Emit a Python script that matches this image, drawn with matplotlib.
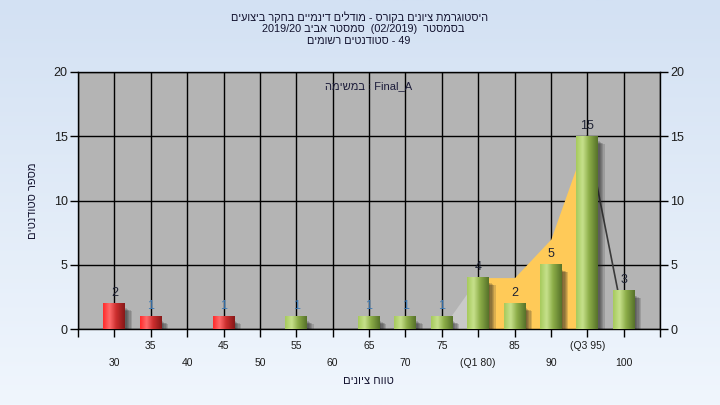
import numpy as np
import matplotlib
matplotlib.use('Agg')
import matplotlib.pyplot as plt
from matplotlib.colors import LinearSegmentedColormap

plt.rcParams['font.family'] = ['Liberation Sans', 'DejaVu Sans']

# ---- data ----
grades = ['30', '35', '40', '45', '50', '55', '60', '65', '70', '75',
          '80', '85', '90', '95', '100']
tick_labels = ['30', '35', '40', '45', '50', '55', '60', '65', '70', '75',
               '(Q1 80)', '85', '90', '(Q3 95)', '100']
counts = [2, 1, 0, 1, 0, 1, 0, 1, 1, 1, 4, 2, 5, 15, 3]
failing = ['30', '35', '40', '45', '50']

# shaded curve behind the bars (inter-quartile range in yellow)
curve_grades = ['75', '80', '85', '90', '95', '100']
curve_values = [0, 4, 4, 7, 15, 0.7]


def rev(s):
    # matplotlib has no bidi, so hebrew runs are written in visual order
    return s[::-1]


title1 = rev('היסטוגרמת ציונים בקורס - מודלים דינמיים בחקר ביצועים')
title2 = '2019/20 ' + rev('סמסטר אביב') + '  (02/2019)  ' + rev('בסמסטר')
title3 = rev('סטודנטים רשומים') + ' - 49'
inner = rev('במשימה') + ' : Final_A'
xlab = rev('טווח ציונים')
ylab = rev('מספר סטודנטים')

fig = plt.figure(figsize=(7.2, 4.05), dpi=100)

# background gradient
bg = fig.add_axes([0, 0, 1, 1], zorder=-10)
bg_cmap = LinearSegmentedColormap.from_list('bg', ['#D3E1F3', '#F0F6FD'])
bg.imshow(np.linspace(0, 1, 256).reshape(-1, 1), cmap=bg_cmap,
          aspect='auto', extent=[0, 1, 0, 1])
bg.axis('off')

ax = fig.add_axes([78 / 720, 76 / 405, 582 / 720, 257 / 405])
ax.set_facecolor('#B4B4B4')

xs = np.arange(1, len(grades) + 1)
pos = dict(zip(grades, xs))

# area behind bars
cx = [pos[g] for g in curve_grades]
ax.fill_between(cx[0:2], curve_values[0:2], color='#C9C9C9', lw=0, zorder=1.5)
ax.fill_between(cx[1:5], curve_values[1:5], color='#FFCA58', lw=0, zorder=1.5)
ax.plot(cx[4:6], curve_values[4:6], color='#3A3A3A', lw=1.2, zorder=1.6)

green = LinearSegmentedColormap.from_list(
    'g', [(0, '#A6CA5C'), (0.3, '#C7E18C'), (0.6, '#8CAD48'), (1, '#56722A')])
red = LinearSegmentedColormap.from_list(
    'r', [(0, '#FF2B2B'), (0.3, '#FF6B6B'), (0.6, '#CC2E2E'), (1, '#861818')])
grad = np.linspace(0, 1, 64).reshape(1, -1)
w = 0.6

for g, x, h in zip(grades, xs, counts):
    if h == 0:
        continue
    # soft shadow to the right of each bar
    for k in range(5):
        off = 0.04 + k * 0.035
        ax.bar(x + off, h - 0.1 - k * 0.05, width=w, bottom=-0.3,
               color='#202020', alpha=0.16, lw=0, zorder=2.5)
    cmap = red if g in failing else green
    ax.imshow(grad, cmap=cmap, extent=[x - w / 2, x + w / 2, 0, h],
              aspect='auto', zorder=3, interpolation='bicubic')
    col = '#3D7AB5' if h == 1 else '#1E2233'
    ax.text(x, h + 0.58, str(h), ha='center', va='baseline',
            fontsize=9, color=col, zorder=5)

ax.set_xlim(0, 16)
ax.set_ylim(0, 20)
ax.set_xticks(range(17))
ax.set_yticks([0, 5, 10, 15, 20])
ax.grid(color='black', lw=1)
ax.set_axisbelow(True)
ax.tick_params(axis='x', labelbottom=False, length=6, width=1, direction='out')
ax.tick_params(axis='y', left=True, right=True, labelleft=True, labelright=True,
               length=6, width=1, pad=1.5, labelsize=9, labelcolor='#1C1C1C')
for sp in ax.spines.values():
    sp.set_color('black')
    sp.set_linewidth(1)

# staggered category labels
for i, (x, lab) in enumerate(zip(xs, tick_labels)):
    dy = -26.6 if i % 2 == 0 else -14.4
    ax.annotate(lab, xy=(x, 0), xycoords=('data', 'axes fraction'),
                xytext=(0, dy), textcoords='offset points',
                ha='center', va='baseline', fontsize=7.5, color='#1C1C1C',
                annotation_clip=False)

ax.text(0.5, 1 - 14.5 / 257, inner, transform=ax.transAxes, ha='center',
        va='center', fontsize=8, color='#1C1C3A')

fig.text(360 / 720, 1 - 17.5 / 405, title1, ha='center', va='center',
         fontsize=7.8, color='#141430')
fig.text(363 / 720, 1 - 29.5 / 405, title2, ha='center', va='center',
         fontsize=7.8, color='#141430')
fig.text(359 / 720, 1 - 40.5 / 405, title3, ha='center', va='center',
         fontsize=7.8, color='#141430')
fig.text(368 / 720, 1 - 381 / 405, xlab, ha='center', va='center',
         fontsize=8, color='#141430')
fig.text(33 / 720, 1 - 201 / 405, ylab, ha='center', va='center',
         rotation=90, fontsize=8, color='#141430')

fig.savefig('out.png', dpi=100)
